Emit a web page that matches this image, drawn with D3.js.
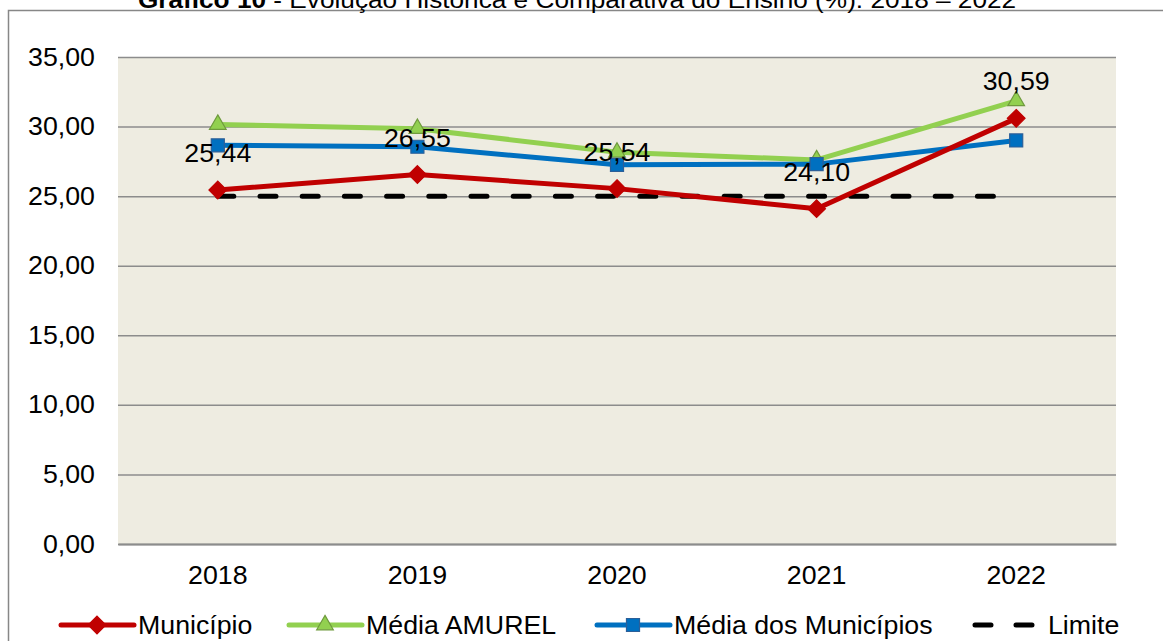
<!DOCTYPE html>
<html>
<head>
<meta charset="utf-8">
<script src="https://cdn.jsdelivr.net/npm/d3@7"></script>
<style>
  body { margin: 0; background: #fff; }
  svg { display: block; font-family: "Liberation Sans", Arial, sans-serif; }
</style>
</head>
<body>
<svg id="chart" width="1163" height="641"></svg>
<script>
'use strict';

/* Data */
var years = ['2018', '2019', '2020', '2021', '2022'];
var municipio = [25.44, 26.55, 25.54, 24.10, 30.59];
var mediaAmurel = [30.15, 29.85, 28.15, 27.6, 31.85];
var mediaMunicipios = [28.65, 28.55, 27.25, 27.3, 29.0];
var limite = [25, 25, 25, 25, 25];
var yTicks = [0, 5, 10, 15, 20, 25, 30, 35];

var fmt = function (v) {
    return v.toFixed(2).replace('.', ',');
};

// the source text is a little wider than plain Arial
var stretch = function (sel) {
    sel.each(function () {
        var t = d3.select(this);
        var tx = +t.attr('x') || 0, ty = +t.attr('y') || 0;
        t.attr('x', 0).attr('y', 0)
            .attr('transform', 'translate(' + tx + ',' + ty + ') scale(1.07,1)');
    });
};

var svg = d3.select('#chart');
var plotLeft = 118, plotRight = 1116, plotTop = 57, plotBottom = 544;

// outer frame
svg.append('rect')
    .attr('x', 8.5).attr('y', 10.5)
    .attr('width', 1170).attr('height', 650)
    .attr('fill', 'none').attr('stroke', '#878787').attr('stroke-width', 1.5);

// title (cut at the top, as in the source)
var title = svg.append('text')
    .attr('x', 577).attr('y', 8)
    .attr('text-anchor', 'middle')
    .attr('font-size', 24.5);
title.append('tspan').attr('font-weight', 'bold').text('Gráfico 10');
title.append('tspan').text(' - Evolução Histórica e Comparativa do Ensino (%): 2018 – 2022');
stretch(title);

var x = d3.scaleBand().domain(years).range([plotLeft, plotRight]);
var y = d3.scaleLinear().domain([0, 35]).range([plotBottom, plotTop]);
var cx = function (d, i) { return x(years[i]) + x.bandwidth() / 2; };

svg.append('rect')
    .attr('x', plotLeft).attr('y', plotTop)
    .attr('width', plotRight - plotLeft).attr('height', plotBottom - plotTop)
    .attr('fill', '#eeece1');

// gridlines + y labels
var yAxis = d3.axisLeft(y).tickValues(yTicks).tickFormat(fmt)
    .tickSize(-(plotRight - plotLeft)).tickPadding(23);
var gy = svg.append('g').attr('transform', 'translate(' + plotLeft + ',0)').call(yAxis);
gy.select('.domain').remove();
gy.selectAll('line').attr('stroke', '#8c8c8c').attr('stroke-width', 1.5);
gy.selectAll('text').attr('font-size', 25).attr('fill', '#000')
    .attr('font-family', '"Liberation Sans", Arial, sans-serif').call(stretch);

// x labels
var xAxis = d3.axisBottom(x).tickSize(0).tickPadding(22);
var gx = svg.append('g').attr('transform', 'translate(0,' + plotBottom + ')').call(xAxis);
gx.select('.domain').attr('stroke', '#8c8c8c').attr('stroke-width', 2);
gx.selectAll('text').attr('font-size', 25).attr('fill', '#000')
    .attr('font-family', '"Liberation Sans", Arial, sans-serif').call(stretch);

var line = d3.line().x(cx).y(function (d) { return y(d); });

var diamond = d3.symbol().type(d3.symbolDiamond2).size(200)();
var square = d3.symbol().type(d3.symbolSquare).size(170)();
var triangle = d3.symbol().type(d3.symbolTriangle).size(120)();

var series = [
    { name: 'Média AMUREL', values: mediaAmurel, color: '#92d050', marker: triangle, fill: '#92d050', stroke: '#6f9a3d' },
    { name: 'Média dos Municípios', values: mediaMunicipios, color: '#0070c0', marker: square, fill: '#0070c0', stroke: '#2c5f98' },
    { name: 'Município', values: municipio, color: '#c00000', marker: diamond, fill: '#c00000', stroke: '#c00000' }
];

// limit line (dashed)
svg.append('path')
    .attr('d', line(limite))
    .attr('fill', 'none').attr('stroke', '#000')
    .attr('stroke-width', 5).attr('stroke-linecap', 'round')
    .attr('stroke-dasharray', '16,26.2');

series.forEach(function (s) {
    svg.append('path')
        .attr('d', line(s.values))
        .attr('fill', 'none').attr('stroke', s.color)
        .attr('stroke-width', 5).attr('stroke-linejoin', 'round');
    svg.selectAll(null).data(s.values).enter().append('path')
        .attr('d', s.marker)
        .attr('transform', function (d, i) { return 'translate(' + cx(d, i) + ',' + y(d) + ')'; })
        .attr('fill', s.fill).attr('stroke', s.stroke).attr('stroke-width', 1.2);
});

// data labels for Município
svg.selectAll(null).data(municipio).enter().append('text')
    .attr('x', cx)
    .attr('y', function (d) { return y(d) - 28; })
    .attr('text-anchor', 'middle')
    .attr('font-size', 25)
    .text(fmt)
    .call(stretch);

// legend
var legendY = 625;
var legend = [
    { name: 'Município', x: 61, color: '#c00000', marker: diamond, fill: '#c00000', stroke: '#c00000' },
    { name: 'Média AMUREL', x: 289, color: '#92d050', marker: triangle, fill: '#92d050', stroke: '#6f9a3d' },
    { name: 'Média dos Municípios', x: 597, color: '#0070c0', marker: square, fill: '#0070c0', stroke: '#2c5f98' },
    { name: 'Limite', x: 972, color: '#000', dash: true }
];
legend.forEach(function (l) {
    var g = svg.append('g').attr('transform', 'translate(' + l.x + ',' + legendY + ')');
    if (l.dash) {
        g.append('line').attr('x1', 3).attr('x2', 67)
            .attr('stroke', '#000').attr('stroke-width', 5).attr('stroke-linecap', 'round')
            .attr('stroke-dasharray', '16,25');
    } else {
        g.append('line').attr('x1', 0).attr('x2', 73)
            .attr('stroke', l.color).attr('stroke-width', 5).attr('stroke-linecap', 'round');
        g.append('path').attr('d', l.marker).attr('transform', 'translate(36,0)')
            .attr('fill', l.fill).attr('stroke', l.stroke).attr('stroke-width', 1.2);
    }
    g.append('text').attr('x', l.dash ? 76 : 77).attr('y', 8.5)
        .attr('font-size', 25).text(l.name).call(stretch);
});
</script>
</body>
</html>
